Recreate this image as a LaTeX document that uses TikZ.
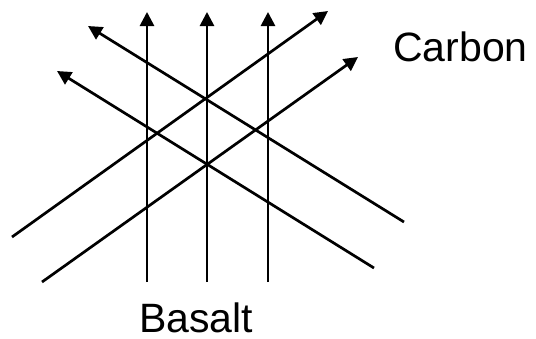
\documentclass[tikz,border=0pt]{standalone}
\usepackage{fontspec}
\setmainfont{Liberation Sans}
\usetikzlibrary{arrows.meta}
\begin{document}
\begin{tikzpicture}[x=1pt, y=-1pt,
  fibra/.style={line width=2.7pt, -{Triangle[length=14pt,width=14pt]}},
  etiqueta/.style={font=\fontsize{41}{48}\selectfont, inner sep=0pt, anchor=base west}
]
  \useasboundingbox (0,0) rectangle (536,338);
  % basalt, vertical
  \coordinate (bas1a) at (147,282); \coordinate (bas1b) at (147,12);
  \coordinate (bas2a) at (207,282); \coordinate (bas2b) at (207,12);
  \coordinate (bas3a) at (268,282); \coordinate (bas3b) at (268,12);
  % carbon, up to the right and up to the left
  \coordinate (car1a) at (12,237);  \coordinate (car1b) at (328,11);
  \coordinate (car2a) at (42,282);  \coordinate (car2b) at (358,57);
  \coordinate (car3a) at (404,222); \coordinate (car3b) at (88,26);
  \coordinate (car4a) at (374,268); \coordinate (car4b) at (57,71);
  \draw[fibra] (bas1a) -- (bas1b);
  \draw[fibra] (bas2a) -- (bas2b);
  \draw[fibra] (bas3a) -- (bas3b);
  \draw[fibra] (car1a) -- (car1b);
  \draw[fibra] (car2a) -- (car2b);
  \draw[fibra] (car3a) -- (car3b);
  \draw[fibra] (car4a) -- (car4b);
  \node[etiqueta] (carbon) at (393,61.7) {Carbon};
  \node[etiqueta] (basalt) at (139,332) {Basalt};
\end{tikzpicture}
\end{document}
